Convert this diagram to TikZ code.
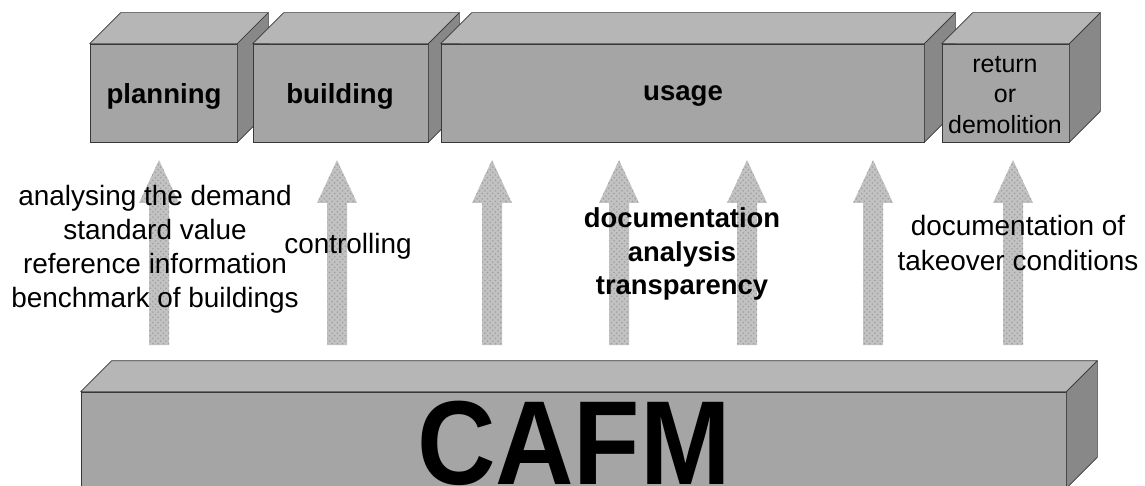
\documentclass[tikz,border=0pt]{standalone}
\usepackage{fontspec}
\setmainfont{Liberation Sans}
\usepackage{tikz}
\usetikzlibrary{positioning, calc, fit, patterns}

\definecolor{boxfront}{HTML}{A5A5A5}
\definecolor{boxtop}{HTML}{B6B6B6}
\definecolor{boxside}{HTML}{888888}
\definecolor{boxline}{HTML}{383838}

\def\dx{31}
\def\dy{31}

% top and side face of a phase block
\newcommand{\cubefaces}[1]{%
	\draw[topface] (#1.north west) -- ++(\dx,-\dy) -- ($(#1.north east)+(\dx,-\dy)$) -- (#1.north east) -- cycle;
	\draw[sideface] (#1.north east) -- ++(\dx,-\dy) -- ($(#1.south east)+(\dx,-\dy)$) -- (#1.south east) -- cycle;}

\tikzset{
	phase/.style={draw=boxline, fill=boxfront, inner sep=0pt},
	phaselabel/.style={align=center, inner sep=0pt, font=\bfseries\fontsize{15.7}{18}\selectfont},
	topface/.style={draw=boxline, fill=boxtop, line join=round},
	sideface/.style={draw=boxline, fill=boxside, line join=round},
	upshaft/.style={fill=black!24, postaction={pattern=crosshatch dots, pattern color=black!38}},
	note/.style={align=center, inner sep=0pt, font=\fontsize{15.9}{19.3}\selectfont},
}

\begin{document}
\begin{tikzpicture}[x=0.02cm, y=-0.02cm]
	
	\useasboundingbox (0,0) rectangle (1145,486);
	\clip (0,0) rectangle (1145,486);
	
	%//phases of the building life cycle
	\node[phase, fit={(90,44) (237,142)}] (planning) {};
	\cubefaces{planning}
	\node[phase, fit={(253,44) (428,142)}] (building) {};
	\cubefaces{building}
	\node[phase, fit={(441,44) (924,142)}] (usage) {};
	\cubefaces{usage}
	\node[phase, fit={(942,44) (1069,142)}] (return) {};
	\cubefaces{return}
	
	\node[phaselabel] (planninglabel) at (164,96) {planning};
	\node[phaselabel] (buildinglabel) at (340,96) {building};
	\node[phaselabel] (usagelabel) at (683,96) {usage};
	\node[phaselabel, font=\fontsize{14.2}{17.6}\selectfont] (returnlabel) at (1005,95) {return\\or\\demolition};
	
	%//arrows from CAFM up to the phases
	\foreach \x in {159,337,492,619,747,873,1013}
	\fill[upshaft] (\x-10,345) -- (\x-10,203) -- (\x-20,203) -- (\x,160) -- (\x+20,203) -- (\x+10,203) -- (\x+10,345) -- cycle;
	
	\node[note] (needs) at (155,249) {analysing the demand\\standard value\\reference information\\benchmark of buildings};
	\node[note] (control) at (348,246) {controlling};
	\node[note, font=\bfseries\fontsize{15.6}{19}\selectfont] (docu) at (682,254) {documentation\\analysis\\transparency};
	\node[note, font=\fontsize{15.9}{20}\selectfont] (takeover) at (1018,243) {documentation of\\takeover conditions};
	
	%//CAFM base block
	\node[phase, fit={(81,392) (1066,488)}] (cafm) {};
	\cubefaces{cafm}
	\node[anchor=base, inner sep=0pt, font=\bfseries\fontsize{68}{68}\selectfont] (cafmlabel) at (574,484) {\scalebox{0.91}[1]{CAFM}};
	
\end{tikzpicture}
\end{document}
